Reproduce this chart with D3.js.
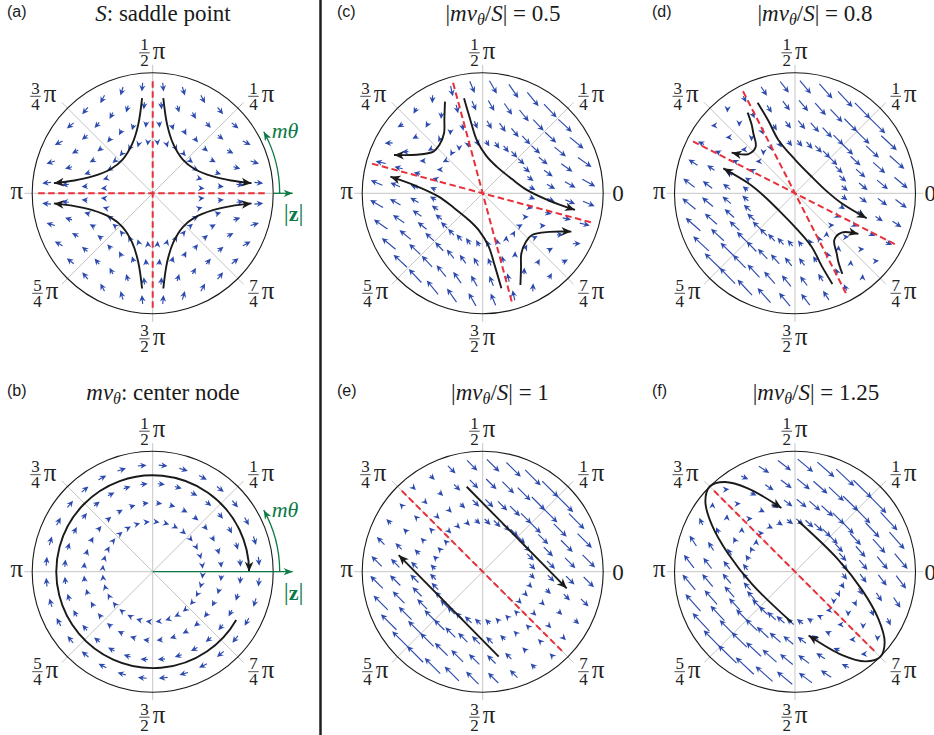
<!DOCTYPE html>
<html>
<head>
<meta charset="utf-8">
<script src="https://cdn.jsdelivr.net/npm/d3@7"></script>
<style>
  body { margin: 0; background: #fff; }
  svg { display: block; }
</style>
</head>
<body>
<svg id="fig" width="934" height="735"></svg>
<script>
const width = 934, height = 735;

// panel parameters (from the titles)
const panelIds = ['(a)', '(b)', '(c)', '(d)', '(e)', '(f)'];
const saddleS = [1, 0, 1, 1, 1, 1];          // S coefficient
const rotW = [0, 1, 0.5, 0.8, 1, 1.25];       // m v_theta coefficient
const ratioText = ['', '', '0.5', '0.8', '1', '1.25'];

// quiver grid (fraction of circle radius)
const ringR = [0.415, 0.57, 0.73, 0.885];
const arrowsPerRing = 32;
const arrowLen = [10, 10, 14, 14, 13, 13];    // px per unit |v|

// red dashed separatrices (degrees)
const sepAngles = [[0, 90], [], [-15, -75], [-27, -63], [-45], [-45]];
const sepExtent = 0.95;

// angle tick labels
const tickAngles = [90, 45, 135, 180, 225, 270, 315, 0];
const tickNum = ['1', '1', '3', '', '5', '3', '7', ''];
const tickDen = ['2', '4', '4', '', '4', '2', '4', ''];
const tickText = ['', '', '', 'π', '', '', '', '0'];

// black trajectories, unit-circle coordinates (x right, y up)
const hyperbolaA = [[0.088, 0.79], [0.12, 0.57], [0.17, 0.41], [0.25, 0.28], [0.35, 0.2], [0.5, 0.14], [0.65, 0.106], [0.82, 0.084]];
const quadSigns = [[1, 1], [-1, 1], [-1, -1], [1, -1]];
const orbitB = { r: 0.8, from: -30, to: -360 };
const curvesC = [
    [[-0.155, 0.788], [-0.1, 0.6], [-0.05, 0.443], [0.03, 0.31], [0.116, 0.221], [0.24, 0.12], [0.365, 0.028], [0.55, -0.06], [0.766, -0.138]],
    [[-0.313, 0.761], [-0.318, 0.62], [-0.321, 0.498], [-0.36, 0.4], [-0.409, 0.346], [-0.55, 0.32], [-0.736, 0.318]],
];
const curvesD = [
    [[-0.31, 0.752], [-0.22, 0.6], [-0.138, 0.443], [0, 0.28], [0.138, 0.138], [0.26, 0.02], [0.387, -0.083], [0.595, -0.207]],
    [[-0.393, 0.669], [-0.36, 0.57], [-0.346, 0.498], [-0.326, 0.387], [-0.387, 0.326], [-0.526, 0.337]],
];
const linesE = [
    [[-0.133, 0.705], [0.697, -0.138]],
];
const ellipseF = [
    [[-0.029, -0.419], [-0.353, -0.107], [-0.556, 0.151], [-0.692, 0.392], [-0.744, 0.585], [-0.707, 0.707], [-0.585, 0.744], [-0.392, 0.692], [-0.113, 0.529]],
];

const R = 120.5;
const centersX = [152.7, 152.7, 482.7, 795, 482.7, 795];
const centersY = [193.3, 571.7, 193.3, 193.3, 571.7, 571.7];
const titleX = [163, 163, 503, 815, 500, 816];
const idX = [7, 7, 337, 652, 337, 652];

const blue = '#2c4aae',
    red = '#e8303a',
    green = '#0b7a45',
    grey = '#c6c6c6',
    ink = '#1a1a1a';
const serif = "'Liberation Serif', 'DejaVu Serif', serif";

const svg = d3.select('#fig');

// arrow markers
const defs = svg.append('defs');
function marker(id, color, len, half) {
    defs.append('marker')
        .attr('id', id)
        .attr('markerUnits', 'userSpaceOnUse')
        .attr('viewBox', `${-len - 2} ${-half - 2} ${len + 4} ${2 * half + 4}`)
        .attr('refX', 0)
        .attr('refY', 0)
        .attr('markerWidth', len + 4)
        .attr('markerHeight', 2 * half + 4)
        .attr('orient', 'auto')
        .append('path')
        .attr('d', `M0,0 L${-len},${-half} L${-len * 0.72},0 L${-len},${half} Z`)
        .attr('fill', color);
}
marker('headBlack', ink, 10, 4.3);
marker('headGreen', green, 9, 3.6);

// separator
svg.append('line')
    .attr('x1', 320.5).attr('x2', 320.5)
    .attr('y1', 0).attr('y2', height)
    .attr('stroke', '#1e1e1e')
    .attr('stroke-width', 2.5);

const mirror = (pts) => pts.map((p) => [-p[0], -p[1]]);

panelIds.forEach((id, i) => {
    const cx = centersX[i], cy = centersY[i];
    const xs = d3.scaleLinear().domain([-1, 1]).range([cx - R, cx + R]);
    const ys = d3.scaleLinear().domain([-1, 1]).range([cy + R, cy - R]);
    const g = svg.append('g');
    const row = i === 0 || i === 2 || i === 3 ? 0 : 1;
    const base = row === 0 ? 21 : 400;

    // panel id
    g.append('text')
        .attr('x', idX[i]).attr('y', base - 4)
        .style('font-family', "'Liberation Sans', Arial, sans-serif")
        .style('font-size', '16px')
        .attr('fill', ink)
        .text(id);

    // title
    const t = g.append('text')
        .attr('x', titleX[i]).attr('y', base)
        .attr('text-anchor', 'middle')
        .style('font-family', serif)
        .style('font-size', '23px')
        .attr('fill', ink);
    if (i === 0) {
        t.append('tspan').style('font-style', 'italic').text('S');
        t.append('tspan').text(': saddle point');
    } else if (i === 1) {
        t.append('tspan').style('font-style', 'italic').text('mv');
        t.append('tspan').style('font-style', 'italic').style('font-size', '16px').attr('dy', 4).text('θ');
        t.append('tspan').attr('dy', -4).text(': center node');
    } else {
        t.append('tspan').text('|');
        t.append('tspan').style('font-style', 'italic').text('mv');
        t.append('tspan').style('font-style', 'italic').style('font-size', '16px').attr('dy', 4).text('θ');
        t.append('tspan').attr('dy', -4).text('/');
        t.append('tspan').style('font-style', 'italic').text('S');
        t.append('tspan').text('| = ' + ratioText[i]);
    }

    // grey spokes
    [0, 45, 90, 135].forEach((a) => {
        const c = Math.cos((a * Math.PI) / 180), s = Math.sin((a * Math.PI) / 180);
        const e = (R + 8) / R;
        g.append('line')
            .attr('x1', xs(-e * c)).attr('y1', ys(-e * s))
            .attr('x2', xs(e * c)).attr('y2', ys(e * s))
            .attr('stroke', grey)
            .attr('stroke-width', 1);
    });

    // boundary circle
    g.append('circle')
        .attr('cx', cx).attr('cy', cy).attr('r', R)
        .attr('fill', 'none')
        .attr('stroke', ink)
        .attr('stroke-width', 1.1);

    // quiver
    const S = saddleS[i], w = rotW[i], k = arrowLen[i];
    const q = g.append('g').attr('fill', blue).attr('stroke', blue);
    ringR.forEach((r) => {
        d3.range(arrowsPerRing).forEach((j) => {
            const phi = ((j + 0.5) * 2 * Math.PI) / arrowsPerRing;
            const x = r * Math.cos(phi), y = r * Math.sin(phi);
            const vx = S * x + w * y, vy = -S * y - w * x;
            const ux = k * vx, uy = -k * vy;
            const len = Math.hypot(ux, uy) || 1e-6;
            const dx = ux / len, dy = uy / len;
            const px = xs(x), py = ys(y);
            const x1 = px + ux / 2, y1 = py + uy / 2;
            const x0 = px - ux / 2, y0 = py - uy / 2;
            if (len > 4) {
                q.append('line')
                    .attr('x1', x0).attr('y1', y0)
                    .attr('x2', x1 - dx * 3).attr('y2', y1 - dy * 3)
                    .attr('stroke-width', 1.15);
            }
            const hl = 6.5, hw = 3.1, nl = 4.4;
            const bx = x1 - dx * hl, by = y1 - dy * hl;
            q.append('path')
                .attr('stroke', 'none')
                .attr('d', `M${x1},${y1} L${bx - dy * hw},${by + dx * hw} L${x1 - dx * nl},${y1 - dy * nl} L${bx + dy * hw},${by - dx * hw} Z`);
        });
    });

    // separatrices
    sepAngles[i].forEach((a) => {
        const c = Math.cos((a * Math.PI) / 180), s = Math.sin((a * Math.PI) / 180);
        g.append('line')
            .attr('x1', xs(-sepExtent * c)).attr('y1', ys(-sepExtent * s))
            .attr('x2', xs(sepExtent * c)).attr('y2', ys(sepExtent * s))
            .attr('stroke', red)
            .attr('stroke-width', 2)
            .attr('stroke-dasharray', '6.5,3.5');
    });

    // trajectories
    const line = d3.line().x((d) => xs(d[0])).y((d) => ys(d[1])).curve(d3.curveCatmullRom.alpha(0.5));
    let curves = [];
    if (i === 0) curves = quadSigns.map((sg) => hyperbolaA.map((p) => [p[0] * sg[0], p[1] * sg[1]]));
    if (i === 2) curves = curvesC.concat(curvesC.map(mirror));
    if (i === 3) curves = curvesD.concat(curvesD.map(mirror));
    if (i === 4) curves = linesE.concat(linesE.map(mirror));
    if (i === 5) curves = ellipseF.concat(ellipseF.map(mirror));
    curves.forEach((c) => {
        g.append('path')
            .attr('d', line(c))
            .attr('fill', 'none')
            .attr('stroke', ink)
            .attr('stroke-width', 1.9)
            .attr('marker-end', 'url(#headBlack)');
    });
    if (i === 1) {
        const p = d3.path();
        const a0 = (-orbitB.from * Math.PI) / 180, a1 = (-orbitB.to * Math.PI) / 180;
        p.moveTo(cx + orbitB.r * R * Math.cos(a0), cy + orbitB.r * R * Math.sin(a0));
        p.arc(cx, cy, orbitB.r * R, a0, a1, false);
        g.append('path')
            .attr('d', p.toString())
            .attr('fill', 'none')
            .attr('stroke', ink)
            .attr('stroke-width', 1.9)
            .attr('marker-end', 'url(#headBlack)');
    }

    // tick labels
    tickAngles.forEach((a, j) => {
        if (a === 0 && i < 2) return;
        const lab = g.append('g').attr('fill', '#222').style('font-family', serif);
        if (tickText[j]) {
            if (a === 180) {
                lab.append('text').attr('x', cx - R - 9).attr('y', cy + 5.5)
                    .attr('text-anchor', 'end').style('font-size', '25px').text(tickText[j]);
            } else {
                lab.append('text').attr('x', cx + R + 9).attr('y', cy + 8)
                    .attr('text-anchor', 'start').style('font-size', '23px').text(tickText[j]);
            }
            return;
        }
        const W = 28;
        let left, bar;
        if (a === 90) { left = cx - W / 2; bar = cy - R - 20; }
        if (a === 270) { left = cx - W / 2; bar = cy + R + 25; }
        if (a === 45) { left = cx + 95; bar = cy - 97; }
        if (a === 135) { left = cx - 95 - W; bar = cy - 97; }
        if (a === 225) { left = cx - 93 - W; bar = cy + 100; }
        if (a === 315) { left = cx + 95; bar = cy + 100; }
        lab.append('line')
            .attr('x1', left + 0.5).attr('x2', left + 11)
            .attr('y1', bar).attr('y2', bar)
            .attr('stroke', '#222').attr('stroke-width', 0.8);
        // one text element: numerator, denominator and pi
        const ft = lab.append('text').style('font-size', '17px');
        ft.append('tspan').attr('x', left + 1.6).attr('y', bar - 2.5).text(tickNum[j]);
        ft.append('tspan').attr('x', left + 1.6).attr('y', bar + 13.5).text(tickDen[j]);
        ft.append('tspan').attr('x', left + 14).attr('y', bar + 6).style('font-size', '25px').text('π');
    });

    // radial / angular annotation
    if (i < 2) {
        g.append('line')
            .attr('x1', i === 0 ? cx + R : cx).attr('y1', cy)
            .attr('x2', cx + 140).attr('y2', cy)
            .attr('stroke', green)
            .attr('stroke-width', 1.3)
            .attr('marker-end', 'url(#headGreen)');
        const p = d3.path();
        p.moveTo(cx + 127, cy);
        p.arc(cx, cy, 127, 0, (-29 * Math.PI) / 180, true);
        g.append('path')
            .attr('d', p.toString())
            .attr('fill', 'none')
            .attr('stroke', green)
            .attr('stroke-width', 1.3)
            .attr('marker-end', 'url(#headGreen)');
        g.append('text')
            .attr('x', cx + 119).attr('y', cy - 55)
            .style('font-family', serif).style('font-size', '22px').style('font-style', 'italic')
            .attr('fill', green)
            .text('mθ');
        const zt = g.append('text')
            .attr('x', cx + 141).attr('y', cy + 28)
            .attr('text-anchor', 'middle')
            .style('font-family', serif).style('font-size', '25px')
            .attr('fill', green);
        zt.append('tspan').text('|');
        zt.append('tspan').style('font-weight', 'bold').style('font-size', '22px').text('z');
        zt.append('tspan').text('|');
    }
});
</script>
</body>
</html>
